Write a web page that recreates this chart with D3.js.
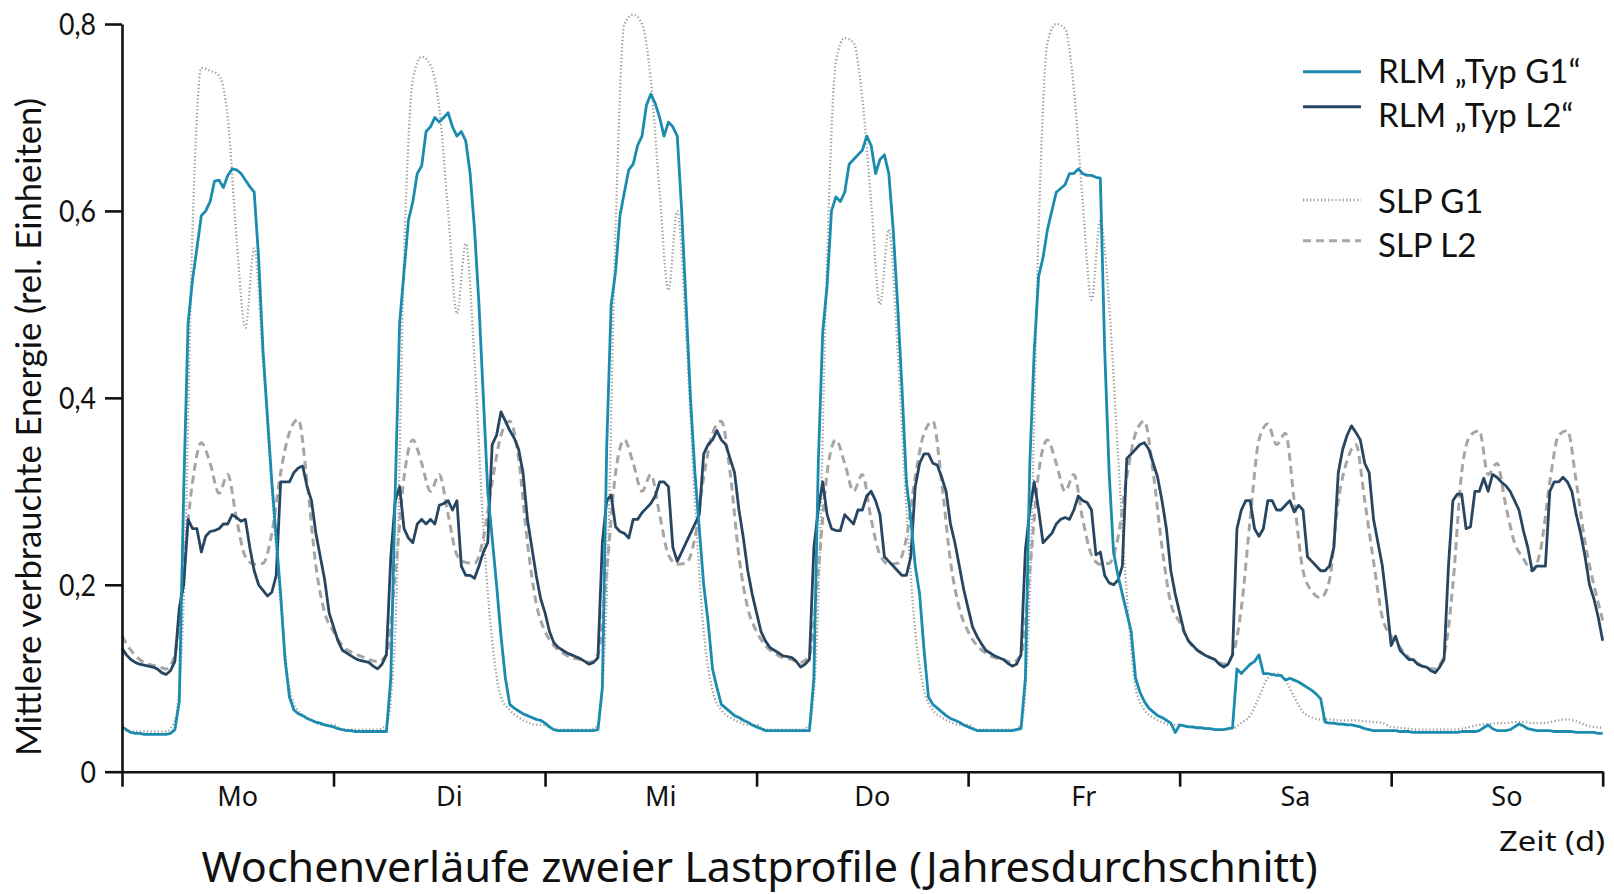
<!DOCTYPE html>
<html>
<head>
<meta charset="utf-8">
<script src="https://cdn.jsdelivr.net/npm/d3@7"></script>
<style>
  html, body { margin: 0; padding: 0; background: #fff; }
  svg { display: block; }
  text { font-family: "Source Sans Pro", Lato, "Open Sans", sans-serif; fill: #111; }
  .wide { font-family: "Noto Sans", "Open Sans", sans-serif; }
</style>
</head>
<body>
<svg id="chart" width="1614" height="894"></svg>
<script>
// ---------------- data ----------------
const days = ["Mo", "Di", "Mi", "Do", "Fr", "Sa", "So"];
const yTicks = [0, 0.2, 0.4, 0.6, 0.8];
const seriesNames = ["RLM \u201ETyp G1\u201C", "RLM \u201ETyp L2\u201C", "SLP G1", "SLP L2"];

// measured profiles (RLM): half-hourly values, Mo 0:00 .. So 24:00
const rlmStepHours = 0.5;
const rlmG1 = [
  0.048,0.045,0.042,0.041,0.041,0.040,0.040,0.040,0.040,0.040,0.040,0.041,
  0.045,0.075,0.30,0.48,0.526,0.56,0.595,0.60,0.61,0.632,0.633,0.625,
  0.638,0.645,0.644,0.64,0.633,0.626,0.62,0.55,0.45,0.38,0.31,0.25,
  0.19,0.12,0.08,0.066,0.062,0.06,0.057,0.055,0.053,0.052,0.050,0.049,
  0.048,0.046,0.045,0.044,0.044,0.043,0.043,0.043,0.043,0.043,0.043,0.043,
  0.043,0.10,0.30,0.48,0.535,0.59,0.61,0.64,0.648,0.685,0.69,0.70,
  0.695,0.70,0.705,0.69,0.68,0.685,0.675,0.64,0.58,0.50,0.40,0.30,
  0.25,0.20,0.145,0.10,0.072,0.068,0.065,0.062,0.06,0.058,0.056,0.055,
  0.052,0.048,0.045,0.044,0.044,0.044,0.044,0.044,0.044,0.044,0.044,0.044,
  0.045,0.09,0.35,0.50,0.535,0.595,0.62,0.644,0.65,0.67,0.68,0.713,
  0.725,0.715,0.70,0.68,0.695,0.69,0.68,0.60,0.50,0.40,0.32,0.26,
  0.20,0.16,0.11,0.09,0.072,0.068,0.064,0.06,0.058,0.055,0.053,0.05,
  0.048,0.046,0.044,0.044,0.044,0.044,0.044,0.044,0.044,0.044,0.044,0.044,
  0.044,0.10,0.33,0.47,0.52,0.60,0.615,0.61,0.62,0.65,0.655,0.66,
  0.665,0.68,0.67,0.64,0.655,0.66,0.64,0.58,0.50,0.41,0.31,0.27,
  0.22,0.19,0.13,0.08,0.072,0.068,0.064,0.06,0.057,0.055,0.053,0.05,
  0.048,0.046,0.044,0.044,0.044,0.044,0.044,0.044,0.044,0.044,0.044,0.045,
  0.046,0.10,0.33,0.45,0.53,0.55,0.58,0.60,0.62,0.624,0.628,0.64,
  0.64,0.645,0.64,0.638,0.638,0.636,0.635,0.45,0.32,0.235,0.21,0.19,
  0.17,0.15,0.10,0.085,0.075,0.068,0.064,0.06,0.058,0.055,0.052,0.042,
  0.05,0.049,0.048,0.048,0.047,0.047,0.046,0.046,0.045,0.045,0.045,0.046,
  0.047,0.11,0.105,0.11,0.115,0.118,0.125,0.105,0.105,0.104,0.103,0.103,
  0.098,0.10,0.098,0.096,0.093,0.09,0.087,0.083,0.078,0.053,0.052,0.052,
  0.051,0.051,0.05,0.05,0.049,0.048,0.046,0.045,0.044,0.044,0.044,0.044,
  0.044,0.044,0.043,0.043,0.043,0.042,0.042,0.042,0.042,0.042,0.042,0.042,
  0.042,0.042,0.042,0.042,0.043,0.043,0.043,0.043,0.044,0.047,0.05,0.046,
  0.044,0.044,0.044,0.045,0.048,0.051,0.049,0.046,0.045,0.044,0.044,0.044,
  0.044,0.043,0.043,0.043,0.043,0.043,0.042,0.042,0.042,0.042,0.042,0.041,
  0.041
];

const rlmL2 = [
  0.132,0.125,0.12,0.117,0.115,0.114,0.113,0.112,0.11,0.106,0.104,0.108,
  0.118,0.175,0.20,0.27,0.26,0.26,0.235,0.252,0.257,0.258,0.26,0.265,
  0.265,0.275,0.272,0.268,0.27,0.24,0.215,0.20,0.194,0.188,0.192,0.21,
  0.31,0.31,0.31,0.32,0.325,0.327,0.305,0.29,0.255,0.23,0.205,0.17,
  0.155,0.14,0.13,0.127,0.124,0.121,0.119,0.118,0.117,0.113,0.11,0.115,
  0.125,0.23,0.29,0.305,0.26,0.25,0.245,0.265,0.27,0.265,0.27,0.265,
  0.285,0.287,0.29,0.28,0.29,0.22,0.21,0.21,0.207,0.22,0.235,0.245,
  0.35,0.36,0.385,0.375,0.365,0.357,0.345,0.32,0.27,0.24,0.21,0.185,
  0.17,0.15,0.138,0.133,0.13,0.127,0.125,0.123,0.121,0.118,0.115,0.117,
  0.122,0.245,0.29,0.296,0.262,0.257,0.255,0.25,0.27,0.27,0.277,0.282,
  0.287,0.295,0.31,0.31,0.305,0.24,0.225,0.235,0.245,0.255,0.265,0.275,
  0.34,0.35,0.355,0.365,0.355,0.35,0.335,0.32,0.28,0.25,0.215,0.19,
  0.17,0.15,0.14,0.133,0.13,0.127,0.124,0.123,0.122,0.118,0.112,0.115,
  0.12,0.24,0.28,0.31,0.275,0.26,0.258,0.258,0.275,0.27,0.265,0.28,
  0.28,0.295,0.30,0.29,0.275,0.23,0.225,0.22,0.215,0.21,0.21,0.23,
  0.305,0.33,0.34,0.34,0.33,0.328,0.315,0.30,0.265,0.245,0.22,0.195,
  0.175,0.155,0.145,0.137,0.13,0.127,0.124,0.122,0.12,0.116,0.113,0.115,
  0.125,0.237,0.28,0.31,0.28,0.245,0.25,0.255,0.265,0.27,0.272,0.27,
  0.28,0.295,0.29,0.288,0.28,0.232,0.235,0.21,0.202,0.20,0.205,0.22,
  0.335,0.34,0.345,0.35,0.352,0.345,0.33,0.315,0.29,0.26,0.215,0.19,
  0.17,0.15,0.14,0.135,0.13,0.127,0.124,0.122,0.12,0.115,0.112,0.115,
  0.125,0.26,0.28,0.29,0.29,0.26,0.252,0.26,0.29,0.29,0.28,0.28,
  0.285,0.29,0.278,0.285,0.28,0.23,0.225,0.22,0.215,0.215,0.22,0.24,
  0.32,0.345,0.36,0.37,0.363,0.355,0.33,0.32,0.27,0.245,0.22,0.18,
  0.135,0.145,0.13,0.125,0.12,0.12,0.115,0.113,0.112,0.108,0.106,0.112,
  0.12,0.22,0.29,0.297,0.297,0.26,0.262,0.30,0.30,0.314,0.30,0.318,
  0.315,0.31,0.306,0.30,0.29,0.28,0.258,0.24,0.215,0.22,0.22,0.22,
  0.30,0.31,0.31,0.315,0.31,0.30,0.275,0.255,0.23,0.20,0.185,0.165,
  0.14
];

// standard load profiles (SLP): hourly values, Mo 0:00 .. So 24:00
const slpStepHours = 1;
const slpG1 = [
  0.045,0.043,0.043,0.043,0.043,0.043,0.055,0.18,0.58,0.753,0.75,0.745,0.70,0.57,0.475,0.56,0.44,0.30,0.18,0.09,0.065,0.058,0.052,0.050,
  0.050,0.045,0.045,0.045,0.045,0.045,0.050,0.15,0.55,0.74,0.765,0.756,0.71,0.60,0.49,0.565,0.44,0.26,0.14,0.08,0.066,0.058,0.053,0.050,
  0.050,0.045,0.045,0.045,0.045,0.045,0.050,0.19,0.58,0.80,0.81,0.80,0.74,0.62,0.515,0.60,0.47,0.29,0.15,0.087,0.066,0.058,0.053,0.050,
  0.050,0.045,0.045,0.045,0.045,0.045,0.050,0.18,0.55,0.76,0.785,0.78,0.72,0.61,0.50,0.58,0.45,0.28,0.15,0.087,0.066,0.058,0.053,0.050,
  0.050,0.045,0.045,0.045,0.045,0.045,0.050,0.19,0.58,0.78,0.80,0.795,0.73,0.61,0.505,0.59,0.50,0.34,0.19,0.09,0.066,0.058,0.053,0.050,
  0.050,0.048,0.047,0.046,0.045,0.045,0.046,0.052,0.06,0.08,0.10,0.105,0.098,0.08,0.064,0.058,0.056,0.056,0.055,0.055,0.055,0.054,0.053,0.052,
  0.048,0.047,0.046,0.045,0.045,0.045,0.045,0.045,0.046,0.048,0.050,0.051,0.052,0.052,0.053,0.053,0.052,0.052,0.053,0.055,0.056,0.054,0.050,0.048,
  0.047
];

const slpL2 = [
  0.145,0.13,0.12,0.115,0.113,0.11,0.125,0.22,0.31,0.352,0.33,0.298,0.318,0.27,0.23,0.222,0.223,0.255,0.32,0.363,0.377,0.31,0.22,0.17,
  0.15,0.135,0.128,0.124,0.12,0.118,0.125,0.21,0.315,0.355,0.33,0.30,0.318,0.275,0.232,0.224,0.223,0.25,0.31,0.36,0.375,0.335,0.245,0.18,
  0.15,0.135,0.127,0.122,0.12,0.117,0.125,0.215,0.32,0.355,0.33,0.30,0.318,0.275,0.232,0.222,0.223,0.25,0.315,0.362,0.375,0.32,0.23,0.175,
  0.15,0.135,0.127,0.122,0.12,0.117,0.125,0.215,0.32,0.355,0.33,0.30,0.318,0.27,0.232,0.222,0.223,0.25,0.315,0.362,0.375,0.31,0.225,0.175,
  0.15,0.135,0.127,0.122,0.12,0.117,0.125,0.215,0.32,0.355,0.33,0.30,0.318,0.27,0.232,0.222,0.223,0.25,0.315,0.362,0.375,0.32,0.24,0.18,
  0.16,0.14,0.13,0.124,0.12,0.115,0.125,0.175,0.27,0.355,0.372,0.35,0.362,0.29,0.215,0.193,0.186,0.205,0.29,0.333,0.35,0.29,0.225,0.165,
  0.145,0.133,0.122,0.116,0.111,0.11,0.125,0.2,0.32,0.36,0.365,0.318,0.33,0.285,0.245,0.228,0.215,0.24,0.31,0.36,0.365,0.31,0.245,0.2,
  0.162
];

// ---------------- layout ----------------
const svg = d3.select("#chart");
const x = d3.scaleLinear().domain([0, days.length * 24]).range([122, 1602.7]);
const y = d3.scaleLinear().domain([0, 0.8]).range([771.7, 24]);

const series = [
  { name: seriesNames[2], values: slpG1, step: slpStepHours, color: "#9a9a9a", width: 2.3, dash: "1.2 2.4", curve: d3.curveMonotoneX },
  { name: seriesNames[3], values: slpL2, step: slpStepHours, color: "#a6a6a6", width: 3, dash: "8 5", curve: d3.curveMonotoneX },
  { name: seriesNames[1], values: rlmL2, step: rlmStepHours, color: "#274661", width: 2.8, dash: null, curve: d3.curveLinear },
  { name: seriesNames[0], values: rlmG1, step: rlmStepHours, color: "#1b8bae", width: 2.8, dash: null, curve: d3.curveLinear }
];

svg.append("g").selectAll("path").data(series).join("path")
  .attr("d", d => d3.line().x((v, i) => x(i * d.step)).y(v => y(v)).curve(d.curve)(d.values))
  .attr("fill", "none")
  .attr("stroke", d => d.color)
  .attr("stroke-width", d => d.width)
  .attr("stroke-dasharray", d => d.dash)
  .attr("stroke-linejoin", "round");

// ---------------- axes ----------------
const fmt = v => v === 0 ? "0" : d3.format(".1f")(v).replace(".", ",");

const yAxis = svg.append("g").attr("transform", `translate(${x(0)},0)`)
  .call(d3.axisLeft(y).tickValues(yTicks).tickSize(17).tickSizeOuter(0).tickFormat(""));
const xAxis = svg.append("g").attr("transform", `translate(0,${y(0)})`)
  .call(d3.axisBottom(x).tickValues(d3.range(0, days.length * 24 + 1, 24)).tickSize(15).tickSizeOuter(0).tickFormat(""));
[yAxis, xAxis].forEach(g => {
  g.selectAll("path, line").attr("stroke", "#111").attr("stroke-width", 2.6);
});

// y tick labels (condensed)
svg.append("g").selectAll("text").data(yTicks).join("text")
  .attr("transform", d => `translate(96,${y(d) + 11}) scale(0.86,1)`)
  .attr("text-anchor", "end")
  .attr("font-size", 31)
  .text(fmt);

// day labels
svg.append("g").selectAll("text").data(days).join("text")
  .attr("class", "wide")
  .attr("x", (d, i) => x(i * 24 + 12) + 10)
  .attr("y", 806)
  .attr("text-anchor", "middle")
  .attr("font-size", 27)
  .text(d => d);

svg.append("text").attr("class", "wide")
  .attr("x", 1605).attr("y", 851).attr("text-anchor", "end")
  .attr("font-size", 28)
  .attr("textLength", 106).attr("lengthAdjust", "spacingAndGlyphs")
  .text("Zeit (d)");

svg.append("text")
  .attr("transform", "translate(41,427) rotate(-90)")
  .attr("text-anchor", "middle")
  .attr("font-size", 34)
  .attr("textLength", 658).attr("lengthAdjust", "spacingAndGlyphs")
  .text("Mittlere verbrauchte Energie (rel. Einheiten)");

svg.append("text").attr("class", "wide")
  .attr("x", 759.6).attr("y", 882).attr("text-anchor", "middle")
  .attr("font-size", 41)
  .attr("textLength", 1116).attr("lengthAdjust", "spacingAndGlyphs")
  .text("Wochenverl\u00E4ufe zweier Lastprofile (Jahresdurchschnitt)");

// ---------------- legend ----------------
const legendRows = [
  { s: series[3], ly: 71.7, ty: 83.3 },
  { s: series[2], ly: 106.7, ty: 126.7 },
  { s: series[0], ly: 200, ty: 213 },
  { s: series[1], ly: 240.7, ty: 256.7 }
];
const lg = svg.append("g");
lg.selectAll("line").data(legendRows).join("line")
  .attr("x1", 1303).attr("x2", 1361)
  .attr("y1", d => d.ly).attr("y2", d => d.ly)
  .attr("stroke", d => d.s.color)
  .attr("stroke-width", d => d.s.dash ? d.s.width : 3)
  .attr("stroke-dasharray", d => d.s.dash);
lg.selectAll("text").data(legendRows).join("text")
  .attr("x", 1378).attr("y", d => d.ty)
  .attr("font-size", 33)
  .text(d => d.s.name);
</script>
</body>
</html>
